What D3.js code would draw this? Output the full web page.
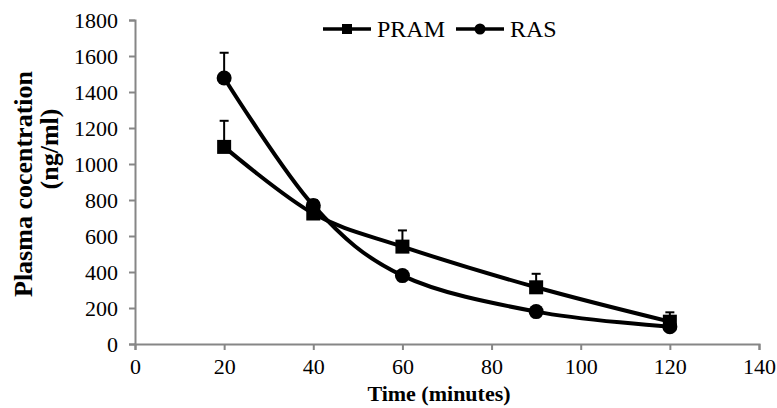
<!DOCTYPE html>
<html>
<head>
<meta charset="utf-8">
<script src="https://cdn.jsdelivr.net/npm/d3@7"></script>
<style>
  body { margin: 0; background: #fff; }
  svg, svg text { font-family: "Liberation Serif", "Times New Roman", serif !important; }
</style>
</head>
<body>
<svg id="chart" width="777" height="408"></svg>
<script>
const times = [20, 40, 60, 90, 120];
const pramValues = [1095, 725, 541, 315, 124];
const pramErrors = [145, 60, 90, 75, 52];
const rasValues = [1478, 770, 380, 180, 96];
const rasErrors = [140, 30, 20, 15, 20];
const xTicks = [0, 20, 40, 60, 80, 100, 120, 140];
const yTicks = [0, 200, 400, 600, 800, 1000, 1200, 1400, 1600, 1800];
const seriesNames = ["PRAM", "RAS"];

const svg = d3.select("#chart");
const W = 777, H = 408;
const m = { left: 135, right: 18, top: 20, bottom: 64 };
const FONT = "Liberation Serif";

const x = d3.scaleLinear().domain([0, 140]).range([m.left, W - m.right]);
const y = d3.scaleLinear().domain([0, 1800]).range([H - m.bottom, m.top]);
const axisColor = "#868686";

const yAxis = svg.append("g").attr("transform", `translate(${m.left},0)`)
  .call(d3.axisLeft(y).tickValues(yTicks).tickSize(6).tickPadding(11).tickFormat(d3.format("d")));
const xAxis = svg.append("g").attr("transform", `translate(0,${H - m.bottom})`)
  .call(d3.axisBottom(x).tickValues(xTicks).tickSize(6).tickPadding(8).tickFormat(d3.format("d")));

[yAxis, xAxis].forEach(g => {
  g.attr("font-family", FONT).attr("font-size", 22);
  g.select(".domain").attr("stroke", axisColor).attr("stroke-width", 2);
  g.selectAll(".tick line").attr("stroke", axisColor).attr("stroke-width", 2);
  g.selectAll(".tick text").attr("fill", "#000");
});

svg.append("text").attr("x", 439).attr("y", 401)
  .attr("text-anchor", "middle").attr("font-family", FONT).attr("font-size", 22).attr("font-weight", "bold")
  .text("Time (minutes)");

svg.append("text").attr("transform", "translate(32,184) rotate(-90)")
  .attr("text-anchor", "middle").attr("font-family", FONT).attr("font-size", 26).attr("font-weight", "bold")
  .text("Plasma cocentration");
svg.append("text").attr("transform", "translate(58,149) rotate(-90)")
  .attr("text-anchor", "middle").attr("font-family", FONT).attr("font-size", 26).attr("font-weight", "bold")
  .text("(ng/ml)");

const line = d3.line().x(d => x(d.t)).y(d => y(d.v)).curve(d3.curveCardinal.tension(0));

function drawSeries(values, errors, shape) {
  const data = times.map((t, i) => ({ t, v: values[i], e: errors[i] }));
  const g = svg.append("g");
  data.forEach(d => {
    g.append("line").attr("x1", x(d.t)).attr("x2", x(d.t))
      .attr("y1", y(d.v)).attr("y2", y(d.v + d.e)).attr("stroke", "#000").attr("stroke-width", 2);
    g.append("line").attr("x1", x(d.t) - 4.5).attr("x2", x(d.t) + 4.5)
      .attr("y1", y(d.v + d.e)).attr("y2", y(d.v + d.e)).attr("stroke", "#000").attr("stroke-width", 2);
  });
  g.append("path").datum(data).attr("d", line).attr("fill", "none")
    .attr("stroke", "#000").attr("stroke-width", 4);
  data.forEach(d => {
    if (shape === "square") {
      g.append("rect").attr("x", x(d.t) - 7).attr("y", y(d.v) - 7)
        .attr("width", 14).attr("height", 14).attr("fill", "#000");
    } else {
      g.append("circle").attr("cx", x(d.t)).attr("cy", y(d.v)).attr("r", 7.5).attr("fill", "#000");
    }
  });
}
drawSeries(pramValues, pramErrors, "square");
drawSeries(rasValues, rasErrors, "circle");

const legend = svg.append("g");
const legItems = [
  { name: seriesNames[0], shape: "square", x0: 323 },
  { name: seriesNames[1], shape: "circle", x0: 456 }
];
legItems.forEach(it => {
  const ly = 29;
  legend.append("line").attr("x1", it.x0).attr("x2", it.x0 + 48).attr("y1", ly).attr("y2", ly)
    .attr("stroke", "#000").attr("stroke-width", 3.5);
  if (it.shape === "square") {
    legend.append("rect").attr("x", it.x0 + 24 - 5).attr("y", ly - 5).attr("width", 10).attr("height", 10).attr("fill", "#000");
  } else {
    legend.append("circle").attr("cx", it.x0 + 24).attr("cy", ly).attr("r", 5.5).attr("fill", "#000");
  }
  legend.append("text").attr("x", it.x0 + 54).attr("y", ly + 8)
    .attr("font-family", FONT).attr("font-size", 24).text(it.name);
});
</script>
</body>
</html>
